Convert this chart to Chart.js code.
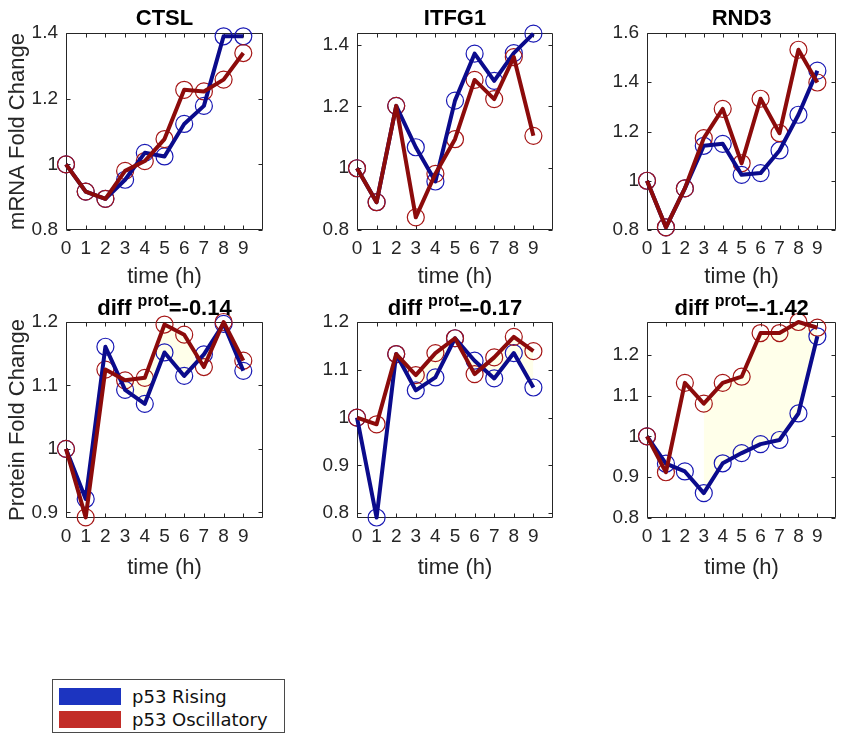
<!DOCTYPE html>
<html>
<head>
<meta charset="utf-8">
<script src="https://cdn.jsdelivr.net/npm/chart.js@4.4.1/dist/chart.umd.min.js"></script>
<style>
  html, body { margin: 0; padding: 0; background: #fff; }
  #page { position: relative; width: 846px; height: 736px; overflow: hidden; background: #fff; }
  #page canvas { position: absolute; left: 0; top: 0; }
  #legend {
    position: absolute; left: 52px; top: 679px; width: 231px; height: 52px;
    border: 1px solid #4a4a4a; background: #fff;
    font-family: "DejaVu Sans", sans-serif; font-size: 18px; color: #111;
  }
  #legend .row { position: absolute; left: 6px; height: 18px; display: flex; align-items: center; }
  #legend .swatch { width: 62px; height: 17px; margin-right: 11px; }
  #legend .r1 { top: 7px; }
  #legend .r2 { top: 30px; }
</style>
</head>
<body>
<div id="page">
  <div id="legend">
    <div class="row r1"><span class="swatch" style="background:#1c34c0"></span><span>p53 Rising</span></div>
    <div class="row r2"><span class="swatch" style="background:#c22d28"></span><span>p53 Oscillatory</span></div>
  </div>
</div>
<script>
// ---- data ----
const hours = [0, 1, 2, 3, 4, 5, 6, 7, 8, 9];
const genes = ['CTSL', 'ITFG1', 'RND3'];
const diffProt = ['-0.14', '-0.17', '-1.42'];
const rowTitles = ['mRNA Fold Change', 'Protein Fold Change'];

// mRNA fold change
const ctslMrnaRising = [1.0, 0.917, 0.895, 0.953, 1.035, 1.024, 1.123, 1.178, 1.39, 1.39];
const ctslMrnaOsc    = [1.0, 0.917, 0.895, 0.980, 1.010, 1.077, 1.227, 1.222, 1.258, 1.339];
const itfgMrnaRising = [1.0, 0.890, 1.202, 1.068, 0.957, 1.219, 1.371, 1.283, 1.373, 1.436];
const itfgMrnaOsc    = [1.0, 0.890, 1.202, 0.841, 0.982, 1.094, 1.286, 1.224, 1.360, 1.105];
const rndMrnaRising  = [1.0, 0.811, 0.969, 1.142, 1.150, 1.024, 1.031, 1.123, 1.268, 1.447];
const rndMrnaOsc     = [1.0, 0.811, 0.969, 1.173, 1.292, 1.071, 1.333, 1.193, 1.532, 1.399];

// protein fold change
const ctslProtRising = [1.0, 0.921, 1.161, 1.093, 1.071, 1.152, 1.115, 1.149, 1.197, 1.123];
const ctslProtOsc    = [1.0, 0.892, 1.125, 1.108, 1.112, 1.196, 1.180, 1.129, 1.200, 1.139];
const itfgProtRising = [1.0, 0.791, 1.133, 1.057, 1.084, 1.166, 1.119, 1.082, 1.135, 1.063];
const itfgProtOsc    = [1.0, 0.986, 1.133, 1.089, 1.135, 1.166, 1.091, 1.126, 1.169, 1.139];
const rndProtRising  = [1.0, 0.933, 0.914, 0.861, 0.934, 0.959, 0.981, 0.991, 1.056, 1.245];
const rndProtOsc     = [1.0, 0.912, 1.131, 1.080, 1.131, 1.146, 1.253, 1.253, 1.280, 1.266];

// y tick labels per panel
const ticksCtslMrna = [0.8, 1, 1.2, 1.4];
const ticksItfgMrna = [0.8, 1, 1.2, 1.4];
const ticksRndMrna  = [0.8, 1, 1.2, 1.4, 1.6];
const ticksCtslProt = [0.9, 1, 1.1, 1.2];
const ticksItfgProt = [0.8, 0.9, 1, 1.1, 1.2];
const ticksRndProt  = [0.8, 0.9, 1, 1.1, 1.2];

// shaded band between the two protein curves starts at this hour
const bandStartHour = 3;

// ---- styling ----
const W = 846, H = 736;
const FONT = '"Liberation Sans", Arial, sans-serif';
const AXIS = '#262626';
const BLUE_LINE = '#0b0b8c', RED_LINE = '#8c0b0b';
const BLUE_MARK = '#1818b4', RED_MARK = '#a51515';
const BAND = 'rgb(255,255,234)';

const panels = [
  { rising: ctslMrnaRising, osc: ctslMrnaOsc, ticks: ticksCtslMrna, min: 0.8, max: 1.4, box: [66, 33, 263, 230], title: genes[0], yTitle: rowTitles[0] },
  { rising: itfgMrnaRising, osc: itfgMrnaOsc, ticks: ticksItfgMrna, min: 0.8, max: 1.438, box: [357, 33, 553, 230], title: genes[1] },
  { rising: rndMrnaRising,  osc: rndMrnaOsc,  ticks: ticksRndMrna,  min: 0.8, max: 1.6, box: [647, 33, 843, 230], title: genes[2] },
  { rising: ctslProtRising, osc: ctslProtOsc, ticks: ticksCtslProt, min: 0.891, max: 1.2, box: [66, 322, 263, 518], diff: diffProt[0], yTitle: rowTitles[1], band: true },
  { rising: itfgProtRising, osc: itfgProtOsc, ticks: ticksItfgProt, min: 0.79, max: 1.2, box: [357, 322, 553, 518], diff: diffProt[1], band: true },
  { rising: rndProtRising,  osc: rndProtOsc,  ticks: ticksRndProt,  min: 0.8, max: 1.28, box: [647, 322, 843, 518], diff: diffProt[2], band: true }
];

const pts = (arr) => arr.map((v, i) => ({ x: hours[i], y: v }));
const ptsFrom = (arr, h0) => arr.map((v, i) => ({ x: hours[i], y: v })).filter(p => p.x >= h0);

// axes frame with inward tick marks on all four sides (drawn beneath the data)
const framePlugin = {
  id: 'frame',
  beforeDatasetsDraw(chart) {
    const { ctx, chartArea: a, scales } = chart;
    const L = Math.round(a.left) + 0.5, R = Math.round(a.right) - 0.5;
    const T = Math.round(a.top) + 0.5, B = Math.round(a.bottom) - 0.5;
    const tl = 4;
    ctx.save();
    ctx.strokeStyle = AXIS;
    ctx.lineWidth = 1;
    ctx.beginPath();
    ctx.rect(L, T, R - L, B - T);
    scales.x.ticks.forEach(t => {
      const px = Math.round(scales.x.getPixelForValue(t.value)) + 0.5;
      ctx.moveTo(px, B); ctx.lineTo(px, B - tl);
      ctx.moveTo(px, T); ctx.lineTo(px, T + tl);
    });
    scales.y.ticks.forEach(t => {
      const py = Math.round(scales.y.getPixelForValue(t.value)) + 0.5;
      ctx.moveTo(L, py); ctx.lineTo(L + tl, py);
      ctx.moveTo(R, py); ctx.lineTo(R - tl, py);
    });
    ctx.stroke();
    ctx.restore();
  }
};

// bold panel titles, with a superscript for the protein row
const titlePlugin = {
  id: 'panelTitle',
  afterDraw(chart, args, opts) {
    const { ctx, chartArea: a } = chart;
    const cx = (a.left + a.right) / 2;
    ctx.save();
    ctx.fillStyle = '#000';
    ctx.textBaseline = 'alphabetic';
    ctx.textAlign = 'left';
    const big = 'bold 22px ' + FONT, small = 'bold 16px ' + FONT;
    if (opts.diff) {
      const p1 = 'diff ', p2 = 'prot', p3 = '=' + opts.diff;
      ctx.font = big; const w1 = ctx.measureText(p1).width; const w3 = ctx.measureText(p3).width;
      ctx.font = small; const w2 = ctx.measureText(p2).width;
      let x = cx - (w1 + w2 + w3) / 2;
      const base = a.top - 7;
      ctx.font = big; ctx.fillText(p1, x, base); x += w1;
      ctx.font = small; ctx.fillText(p2, x, base - 9); x += w2;
      ctx.font = big; ctx.fillText(p3, x, base);
    } else if (opts.text) {
      ctx.font = big;
      ctx.textAlign = 'center';
      ctx.fillText(opts.text, cx, a.top - 8);
    }
    ctx.restore();
  }
};

const page = document.getElementById('page');

panels.forEach((p, idx) => {
  const cv = document.createElement('canvas');
  cv.width = W; cv.height = H;
  cv.style.width = W + 'px'; cv.style.height = H + 'px';
  page.insertBefore(cv, document.getElementById('legend'));

  const [bl, bt, br, bb] = p.box;
  const yW = p.yTitle ? 66 : 48;
  const xH = idx < 3 ? 60 : 63;

  const datasets = [];
  if (p.band) {
    datasets.push({ data: ptsFrom(p.osc, bandStartHour), borderWidth: 0, pointRadius: 0, fill: '+1', backgroundColor: BAND, order: 10, clip: false });
    datasets.push({ data: ptsFrom(p.rising, bandStartHour), borderWidth: 0, pointRadius: 0, fill: false, order: 10, clip: false });
  }
  // circle markers
  datasets.push({ data: pts(p.rising), showLine: false, pointStyle: 'circle', pointRadius: 8.5, pointBorderWidth: 1.2, pointBorderColor: BLUE_MARK, pointBackgroundColor: 'rgba(0,0,0,0)', order: 5, clip: false });
  datasets.push({ data: pts(p.osc), showLine: false, pointStyle: 'circle', pointRadius: 8.5, pointBorderWidth: 1.2, pointBorderColor: RED_MARK, pointBackgroundColor: 'rgba(0,0,0,0)', order: 4, clip: false });
  // thick connecting lines
  datasets.push({ data: pts(p.rising), borderColor: BLUE_LINE, borderWidth: 4, pointRadius: 0, tension: 0, fill: false, order: 2, clip: false, borderJoinStyle: 'round', borderCapStyle: 'butt' });
  datasets.push({ data: pts(p.osc), borderColor: RED_LINE, borderWidth: 4, pointRadius: 0, tension: 0, fill: false, order: 1, clip: false, borderJoinStyle: 'round', borderCapStyle: 'butt' });

  new Chart(cv, {
    type: 'line',
    data: { datasets },
    plugins: [framePlugin, titlePlugin],
    options: {
      responsive: false,
      animation: false,
      events: [],
      layout: { padding: { left: bl - yW, top: bt, right: W - br, bottom: H - bb - xH } },
      plugins: {
        legend: { display: false },
        tooltip: { enabled: false },
        title: { display: false },
        panelTitle: { text: p.title, diff: p.diff }
      },
      scales: {
        x: {
          type: 'linear', min: 0, max: 10,
          afterBuildTicks: (s) => { s.ticks = hours.map(v => ({ value: v })); },
          afterFit: (s) => { s.height = xH; },
          grid: { display: false, drawTicks: false },
          border: { display: false },
          ticks: { padding: 7, autoSkip: false, maxRotation: 0, color: AXIS, font: { family: FONT, size: 19 }, callback: (v) => String(v) },
          title: { display: true, text: 'time (h)', color: AXIS, font: { family: FONT, size: 22 }, padding: 0 }
        },
        y: {
          type: 'linear', min: p.min, max: p.max,
          afterBuildTicks: (s) => { s.ticks = p.ticks.map(v => ({ value: v })); },
          afterFit: (s) => { s.width = yW; },
          grid: { display: false, drawTicks: false },
          border: { display: false },
          ticks: { padding: 8, color: AXIS, font: { family: FONT, size: 19 }, callback: (v) => String(+Number(v).toFixed(2)) },
          title: { display: !!p.yTitle, text: p.yTitle || '', color: AXIS, font: { family: FONT, size: 22 }, padding: { top: 5, bottom: 0 } }
        }
      }
    }
  });
});
</script>
</body>
</html>
